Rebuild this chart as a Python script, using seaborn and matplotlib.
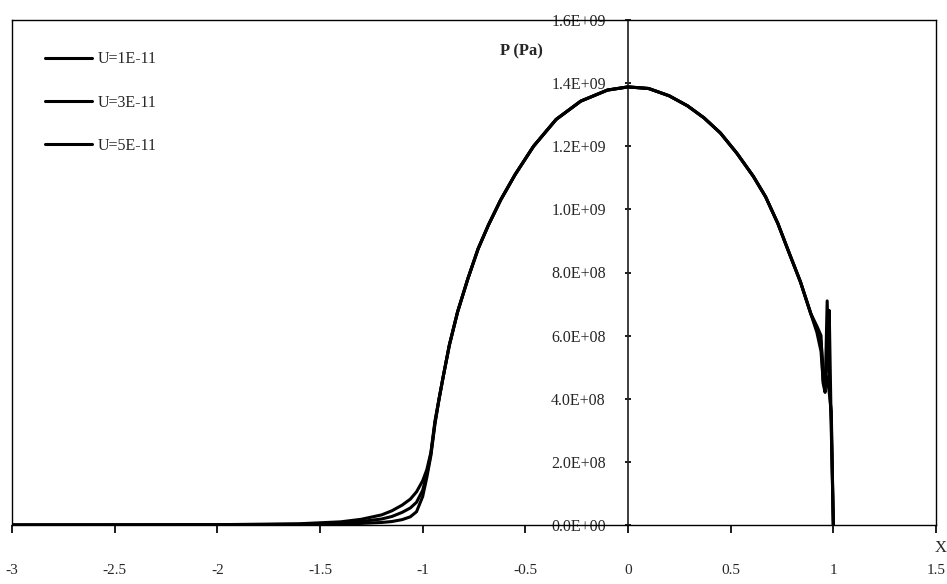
import matplotlib

matplotlib.use("Agg")

import matplotlib.pyplot as plt
import pandas as pd
import seaborn as sns

# position along the contact (dimensionless)
x_pos = [-3.0, -2.5, -2.0, -1.6, -1.4, -1.3, -1.2, -1.15, -1.1, -1.06, -1.03,
         -1.0, -0.98, -0.96, -0.94, -0.92, -0.9, -0.87, -0.83, -0.78, -0.73,
         -0.68, -0.62, -0.55, -0.46, -0.35, -0.23, -0.1, 0.0, 0.1, 0.2, 0.29,
         0.37, 0.45, 0.53, 0.61, 0.67, 0.73, 0.78, 0.84, 0.89, 0.92, 0.94,
         0.95, 0.96, 0.97, 0.98, 0.99, 1.0]

# pressure in units of 1e9 Pa
body = [0.40, 0.47, 0.57, 0.675, 0.78, 0.875, 0.95, 1.03, 1.11, 1.20, 1.285,
        1.343, 1.378, 1.388, 1.383, 1.36, 1.328, 1.29, 1.242, 1.178, 1.105,
        1.04, 0.955, 0.87, 0.77, 0.67]

p_u1 = ([0.0, 0.0005, 0.001, 0.004, 0.010, 0.018, 0.032, 0.045, 0.063, 0.082,
         0.105, 0.14, 0.175, 0.23, 0.33] + body +
        [0.63, 0.60, 0.45, 0.42, 0.71, 0.46, 0.33, 0.0])
p_u3 = ([0.0, 0.0003, 0.0007, 0.002, 0.006, 0.011, 0.019, 0.027, 0.040, 0.054,
         0.072, 0.11, 0.16, 0.225, 0.325] + body +
        [0.62, 0.58, 0.50, 0.44, 0.52, 0.68, 0.30, 0.0])
p_u5 = ([0.0, 0.0001, 0.0003, 0.001, 0.003, 0.005, 0.008, 0.011, 0.017, 0.026,
         0.042, 0.09, 0.15, 0.22, 0.32] + body +
        [0.61, 0.55, 0.46, 0.43, 0.47, 0.42, 0.36, 0.0])

series_labels = ["U=1E-11", "U=3E-11", "U=5E-11"]
y_ticks = [0.0, 0.2e9, 0.4e9, 0.6e9, 0.8e9, 1.0e9, 1.2e9, 1.4e9, 1.6e9]
y_tick_labels = ["0.0E+00", "2.0E+08", "4.0E+08", "6.0E+08", "8.0E+08",
                 "1.0E+09", "1.2E+09", "1.4E+09", "1.6E+09"]
x_ticks = [-3, -2.5, -2, -1.5, -1, -0.5, 0, 0.5, 1, 1.5]
x_tick_labels = ["-3", "-2.5", "-2", "-1.5", "-1", "-0.5", "0", "0.5", "1", "1.5"]

frames = []
for label, p in zip(series_labels, [p_u1, p_u3, p_u5]):
    frames.append(pd.DataFrame({"X": x_pos, "P": [v * 1e9 for v in p], "series": label}))
data = pd.concat(frames, ignore_index=True)

sns.set_theme(style="white")
plt.rcParams["font.family"] = ["Liberation Serif", "DejaVu Serif"]
plt.rcParams["font.size"] = 11

fig = plt.figure(figsize=(9.47, 5.84), dpi=100)
ax = fig.add_axes([12 / 947, 1 - 525 / 584, 924 / 947, 505 / 584])

sns.lineplot(data=data, x="X", y="P", hue="series", palette=["black"] * 3,
             linewidth=2.2, sort=False, estimator=None, ax=ax)

ax.set_xlim(-3, 1.5)
ax.set_ylim(0, 1.6e9)
for spine in ax.spines.values():
    spine.set_color("black")
    spine.set_linewidth(1.0)

ax.set_xticks(x_ticks)
ax.set_xticklabels(x_tick_labels)
ax.tick_params(axis="x", direction="out", length=6, pad=22, color="black",
               bottom=True, labelsize=11)
ax.set_yticks([])
ax.set_xlabel("")
ax.set_ylabel("")

# value axis drawn through X = 0
yax = ax.secondary_yaxis(3 / 4.5)
yax.set_yticks(y_ticks)
yax.set_yticklabels(y_tick_labels)
yax.yaxis.set_ticks_position("left")
yax.spines["left"].set_color("black")
yax.spines["left"].set_linewidth(1.0)
yax.tick_params(axis="y", direction="inout", length=4, pad=14, color="black",
                labelsize=11.5, left=True, right=False,
                labelleft=True, labelright=False)

ax.text(-0.52, 1.5e9, "P (Pa)", ha="center", va="center", fontweight="bold",
        fontsize=12)
ax.text(1.005, -0.045, "X", transform=ax.transAxes, ha="center", va="center",
        fontsize=12)

ax.legend(loc="upper left", bbox_to_anchor=(31 / 947, 1 - 37 / 584),
          bbox_transform=fig.transFigure, frameon=False, labelspacing=1.7,
          handlelength=2.9, handletextpad=0.4, fontsize=11.5)

fig.savefig("out.png", dpi=100)
